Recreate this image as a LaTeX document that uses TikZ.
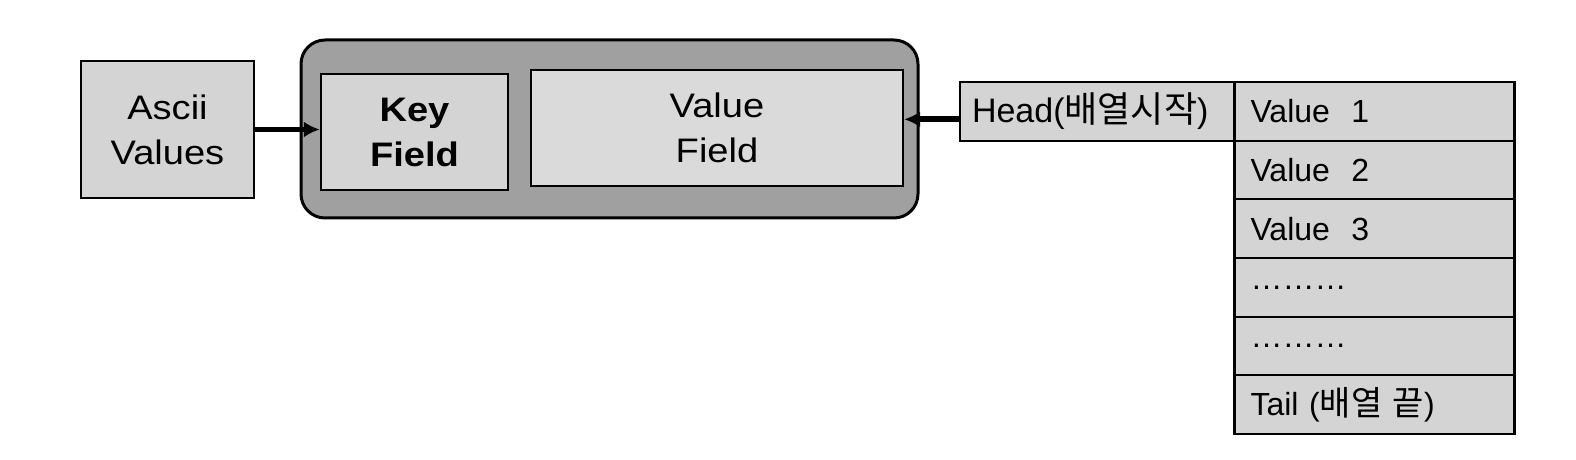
\documentclass[tikz,border=0pt]{standalone}
\usepackage{fontspec}
\setmainfont{Liberation Sans}
\newfontfamily\widefont[FakeStretch=1.12]{Liberation Sans}
\newfontfamily\kr[Scale=1.06]{Noto Sans CJK KR}
\usetikzlibrary{arrows.meta}

\definecolor{lightfill}{RGB}{212,212,212}
\definecolor{darkfill}{RGB}{160,160,160}

\tikzset{
  bigbox/.style={draw, line width=1.2pt, fill=lightfill, align=center, inner sep=0pt,
    font=\widefont\fontsize{17}{22.5}\selectfont},
  cell/.style={draw, line width=1.1pt, fill=lightfill, inner xsep=8pt, inner ysep=0pt,
    minimum height=29.33pt, text width=124pt, align=left,
    font=\fontsize{16}{19}\selectfont},
  arr/.style={-{Latex[length=8pt,width=8pt]}, line width=2.8pt},
}

\begin{document}
\begin{tikzpicture}[x=0.5pt, y=-0.5pt]

\fill[white] (0,0) rectangle (1576,460);
\useasboundingbox (0,0) rectangle (1576,460);

% key/value pair
\node[draw, line width=1.5pt, rounded corners=12pt, fill=darkfill,
  minimum width=308.5pt, minimum height=89pt] (kv) at (609.5,129) {};
\node[bigbox, minimum width=86.5pt, minimum height=68.5pt] (ascii) at (167.5,129.5) {Ascii\\Values};
\node[bigbox, minimum width=93.5pt, minimum height=58pt] (key) at (414.5,132) {\bfseries Key\\\bfseries Field};
\node[bigbox, fill=lightfill!85!white, minimum width=186pt, minimum height=58pt] (valf) at (717,128) {Value\\Field};

% list of values
\node[cell, text width=125pt, inner xsep=6pt, font=\fontsize{17}{19}\selectfont] (head) at (1097,111.3) {Head({\kr 배열시작})};
\node[cell] (v1) at (1374.5,111.3) {Value~~1};
\node[cell] (v2) at (1374.5,170) {Value~~2};
\node[cell] (v3) at (1374.5,228.7) {Value~~3};
\node[cell] (d1) at (1374.5,287.3) {………};
\node[cell] (d2) at (1374.5,346) {………};
\node[cell] (tail) at (1374.5,404.7) {Tail~({\kr 배열~끝})};

\draw[arr] (ascii.east) -- (ascii.east -| key.west);
\draw[arr] ([yshift=-4pt]head.west) -- ([yshift=-4pt]head.west -| valf.east);

\end{tikzpicture}
\end{document}
